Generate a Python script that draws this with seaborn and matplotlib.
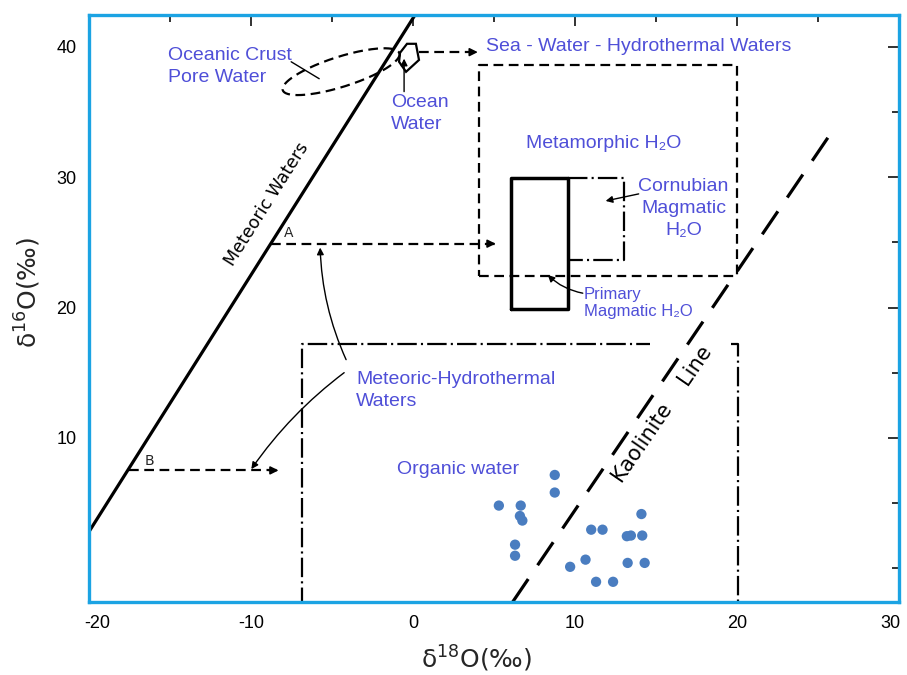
import numpy as np
import matplotlib
matplotlib.use("Agg")
import matplotlib.pyplot as plt
import matplotlib.transforms as mtransforms
from matplotlib.patches import Polygon
import seaborn as sns

# organic water samples
organic_d18o = [5.3, 6.65, 6.6, 6.75, 6.3, 6.3, 8.75, 8.75, 11.0, 11.7,
                14.1, 13.2, 13.45, 14.15, 10.65, 9.7, 11.3, 12.35, 13.25, 14.3]
organic_d16o = [4.8, 4.8, 4.0, 3.65, 1.8, 0.95, 7.15, 5.8, 2.95, 2.95,
                4.15, 2.45, 2.5, 2.5, 0.65, 0.1, -1.05, -1.05, 0.4, 0.4]

# reference lines (end points)
meteoric_x = [-20.2, 0.15]
meteoric_y = [2.4, 42.5]
kaolinite_x = [6.15, 25.7]
kaolinite_y = [-2.6, 33.2]

# water fields: (x0, x1, y0, y1)
metamorphic_box = (4.07, 20.0, 22.4, 38.6)
primary_box = (6.04, 9.55, 19.9, 29.96)
cornubian_box = (9.55, 13.0, 23.66, 29.96)
organic_box = (-6.84, 20.09, -3.0, 17.2)

# ocean water outline
ocean_x = [-0.37, 0.18, 0.37, -0.43, -0.86, -0.80]
ocean_y = [40.24, 40.24, 39.0, 38.09, 38.86, 39.55]

# oceanic crust pore water ellipse: centre, half axes
crust_centre = (-4.44, 38.1)
crust_major = (3.6, 1.42)
crust_minor = (0.28, -1.1)

# meteoric-hydrothermal trajectories
traj_a_x = [-8.78, 5.1]
traj_a_y = 24.9
traj_b_x = [-17.56, -8.3]
traj_b_y = 7.5

x_major = [-20, -10, 0, 10, 20, 30]
x_minor = [-15, -5, 5, 15, 25]
y_major = [10, 20, 30, 40]
y_minor = [0, 5, 15, 25, 35]

BLUE_TXT = "#4F4FD8"
FRAME = "#1BA3E3"
DOT = "#4A7DC0"

sns.set_theme(style="white")
plt.rcParams["font.family"] = ["Liberation Sans", "DejaVu Sans"]
plt.rcParams["lines.scale_dashes"] = False
plt.rcParams["axes.unicode_minus"] = False

fig = plt.figure(figsize=(9.07, 6.75), dpi=100)
ax = fig.add_axes([89 / 907, 1 - 602 / 675, 810 / 907, 587 / 675])
ax.set_xlim(-20, 30)
ax.set_ylim(-2.6, 42.45)

dash = (0, (7, 4))
dashdot = (0, (14, 3, 1.5, 3))

# meteoric water line
ax.plot(meteoric_x, meteoric_y, color="black", lw=2.3, solid_capstyle="butt")
ax.text(-9.0, 27.9, "Meteoric Waters", rotation=57.7, ha="center", va="center",
        fontsize=12.5, family="DejaVu Sans", color="black")

# kaolinite line
ax.plot(kaolinite_x, kaolinite_y, color="black", lw=2.3, ls=(0, (20, 12)))
ax.text(15.4, 11.8, "Kaolinite    Line", rotation=55.5, ha="center", va="center",
        fontsize=15, family="DejaVu Sans", color="black")

# boxes
def box(b, **kw):
    x0, x1, y0, y1 = b
    ax.plot([x0, x1, x1, x0, x0], [y0, y0, y1, y1, y0], **kw)

box(metamorphic_box, color="black", lw=1.6, ls=dash)
box(primary_box, color="black", lw=2.5)
x0, x1, y0, y1 = cornubian_box
ax.plot([x0, x1, x1, x0], [y1, y1, y0, y0], color="black", lw=1.6, ls=dashdot)
x0, x1, y0, y1 = organic_box
ax.plot([x0, x0, 14.6], [y0, y1, y1], color="black", lw=1.6, ls=dashdot)
ax.plot([19.6, x1, x1], [y1, y1, y0], color="black", lw=1.6, ls=dashdot)

# ocean water and crust pore water
ax.add_patch(Polygon(np.column_stack([ocean_x, ocean_y]), closed=True,
                     fill=False, ec="black", lw=1.6))
t = np.linspace(0, 2 * np.pi, 200)
ex = crust_centre[0] + crust_major[0] * np.cos(t) + crust_minor[0] * np.sin(t)
ey = crust_centre[1] + crust_major[1] * np.cos(t) + crust_minor[1] * np.sin(t)
ax.plot(ex, ey, color="black", lw=1.6, ls=dash)
ax.plot([-7.52, -5.79], [38.86, 37.56], color="black", lw=1.0)

def arrow_head(x, y, dx, dy):
    ax.annotate("", xy=(x, y), xytext=(x - dx, y - dy),
                arrowprops=dict(arrowstyle="-|>", color="black", lw=1.2,
                                mutation_scale=12, shrinkA=0, shrinkB=0))

# sea-water hydrothermal arrow
ax.plot([0.37, 3.8], [39.6, 39.6], color="black", lw=1.6, ls=dash)
arrow_head(4.0, 39.6, 0.6, 0)
# ocean water pointer
ax.annotate("", xy=(-0.55, 39.1), xytext=(-0.55, 36.57),
            arrowprops=dict(arrowstyle="-|>", color="black", lw=1.0,
                            mutation_scale=10, shrinkA=0, shrinkB=0))

# trajectories A and B
ax.plot(traj_a_x, [traj_a_y] * 2, color="black", lw=1.6, ls=dash)
arrow_head(traj_a_x[1], traj_a_y, 0.6, 0)
ax.text(-7.7, 25.7, "A", fontsize=10, family="DejaVu Sans", ha="center", va="center")
ax.plot(traj_b_x, [traj_b_y] * 2, color="black", lw=1.6, ls=dash)
arrow_head(traj_b_x[1], traj_b_y, 0.6, 0)
ax.text(-16.27, 8.24, "B", fontsize=10, family="DejaVu Sans", ha="center", va="center")

# curved pointers
curve = dict(arrowstyle="-|>", color="black", lw=1.0, mutation_scale=10,
             shrinkA=0, shrinkB=0)
ax.annotate("", xy=(-5.73, 24.6), xytext=(-4.13, 16.0),
            arrowprops=dict(curve, connectionstyle="arc3,rad=-0.1"))
ax.annotate("", xy=(-9.98, 7.6), xytext=(-4.25, 15.0),
            arrowprops=dict(curve, connectionstyle="arc3,rad=0.08"))
ax.annotate("", xy=(8.32, 22.5), xytext=(10.48, 21.1),
            arrowprops=dict(curve, connectionstyle="arc3,rad=-0.15"))
ax.annotate("", xy=(11.89, 28.18), xytext=(13.93, 28.72),
            arrowprops=dict(curve))

# organic water samples
sns.scatterplot(x=organic_d18o, y=organic_d16o, ax=ax, color=DOT, s=55,
                edgecolor="none", zorder=5)

# field labels
lab = dict(color=BLUE_TXT, fontsize=14, va="center", linespacing=1.38)
ax.text(-15.1, 38.5, "Oceanic Crust\nPore Water", ha="left", **lab)
ax.text(-1.36, 34.9, "Ocean\nWater", ha="left", **lab)
ax.text(4.5, 40.0, "Sea - Water - Hydrothermal Waters", ha="left", **lab)
ax.text(6.96, 32.6, "Metamorphic H\u2082O", ha="left", **lab)
ax.text(16.7, 27.6, "Cornubian\nMagmatic\nH\u2082O", ha="center",
        multialignment="center", **lab)
ax.text(10.54, 20.35, "Primary\nMagmatic H\u2082O", ha="left", color=BLUE_TXT,
        fontsize=12, va="center", linespacing=1.15)
ax.text(-3.51, 13.6, "Meteoric-Hydrothermal\nWaters", ha="left", **lab)
ax.text(-0.99, 7.55, "Organic water", ha="left", **lab)

# axes styling
ax.set_xticks(x_major)
ax.set_xticks(x_minor, minor=True)
ax.set_yticks(y_major)
ax.set_yticks(y_minor, minor=True)
ax.tick_params(which="both", direction="in", top=True, right=True,
               color="#222222", width=1.3, labelsize=13, labelcolor="black")
ax.tick_params(which="major", length=8)
ax.tick_params(which="minor", length=5)
ax.tick_params(axis="x", pad=9)
ax.tick_params(axis="y", pad=9)
for sp in ax.spines.values():
    sp.set_color(FRAME)
    sp.set_linewidth(2.4)
    sp.set_visible(True)
ax.grid(False)

# nudge the end labels inwards like the original
xt = ax.xaxis.get_major_ticks()
xt[0].label1.set_transform(xt[0].label1.get_transform() +
                           mtransforms.ScaledTranslation(8 / 100, 0, fig.dpi_scale_trans))
xt[-1].label1.set_transform(xt[-1].label1.get_transform() +
                            mtransforms.ScaledTranslation(-9 / 100, 0, fig.dpi_scale_trans))

ax.set_xlabel("\u03b4$^{18}$O(\u2030)", fontsize=18, family="DejaVu Sans")
ax.xaxis.set_label_coords(0.478, -0.097)
ax.xaxis.label.set_verticalalignment("center")
ax.set_ylabel("\u03b4$^{16}$O(\u2030)", fontsize=18, family="DejaVu Sans")
ax.yaxis.set_label_coords(-0.075, 0.528)
ax.yaxis.label.set_verticalalignment("center")

fig.savefig("out.png", dpi=100)
